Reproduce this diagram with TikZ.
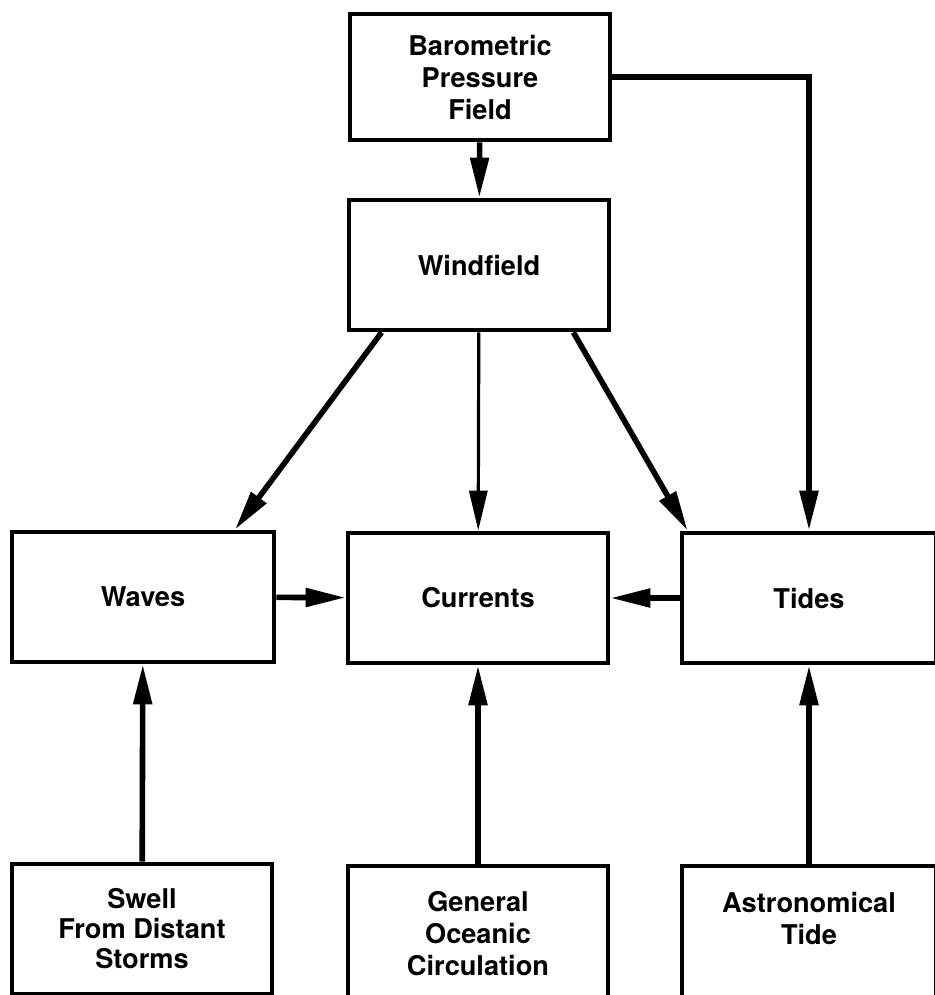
\documentclass[tikz,border=0pt]{standalone}
\usepackage{fontspec}
\setmainfont{TeX Gyre Heros}
\usetikzlibrary{arrows.meta,calc}
\begin{document}
\begin{tikzpicture}[x=0.5pt,y=-0.5pt,
    box/.style={draw,line width=2.4pt,minimum width=130pt,minimum height=65pt,
      align=center,inner sep=0pt,font=\bfseries\fontsize{13.6}{16}\selectfont},
    arr/.style={line width=2.8pt,-{Triangle[length=20pt,width=9pt]}},
    thinarr/.style={line width=1.6pt,-{Triangle[length=20pt,width=9pt]}}]
  \useasboundingbox (0,0) rectangle (935,995);
  \clip (0,0) rectangle (935,995);
  \draw
    (480,77) node[box,minimum height=63pt] (baro){Barometric\\Pressure\\Field}
    (479,265) node[box] (wind){Windfield}
    (143,597) node[box,minimum width=131pt] (waves){Waves}
    (478,598) node[box] (curr){Currents}
    (809,598) node[box,minimum width=127pt] (tides){Tides}
    (142,929) node[box,font=\bfseries\fontsize{13.6}{15}\selectfont] (swell){Swell\\From Distant\\Storms}
    (478,934) node[box,minimum height=68pt] (gen){General\\Oceanic\\Circulation}
    (809,934) node[box,minimum width=127pt,minimum height=68pt] (astro){Astronomical\\Tide\\~};
  \begin{scope}
    \draw[arr] (baro) to (wind);
    \draw[arr] (baro.east) -| (tides.north);
    \draw[arr] ($(wind.south west)+(35,0)$) to ($(waves.north)+(92,0)$);
    \draw[thinarr] (wind) to (curr);
    \draw[arr] ($(wind.south east)+(-38,0)$) to ($(tides.north west)+(8,0)$);
    \draw[arr] (waves) to (curr);
    \draw[arr] (tides) to (curr);
    \draw[arr] (swell) to (waves);
    \draw[arr] (gen) to (curr);
    \draw[arr] (astro) to (tides);
  \end{scope}
\end{tikzpicture}
\end{document}
